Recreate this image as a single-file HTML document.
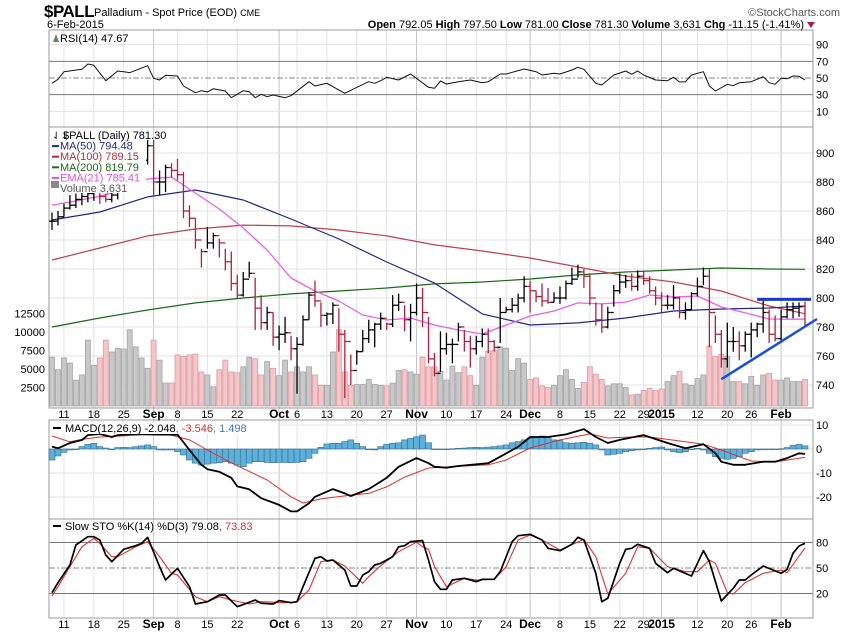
<!DOCTYPE html>
<html><head><meta charset="utf-8"><style>
body{margin:0;background:#fff;}
svg{display:block;font-family:"Liberation Sans",sans-serif;}
</style></head><body>
<svg id="chart" width="850" height="633" viewBox="0 0 850 633" xmlns="http://www.w3.org/2000/svg">
<rect width="850" height="633" fill="#fff"/>
<g id="grid"></g>
<g id="panels"></g>
<g id="series"></g>
<g id="labels"></g>
<!-- header -->
<text x="44" y="17" font-size="17" font-weight="bold" letter-spacing="-0.5">$PALL</text>
<text x="94" y="16" font-size="11">Palladium - Spot Price (EOD) <tspan font-size="9">CME</tspan></text>
<text x="47" y="28" font-size="11">6-Feb-2015</text>
<text x="840" y="16" font-size="11" fill="#555" text-anchor="end">©StockCharts.com</text>
<text x="804" y="28" font-size="11" text-anchor="end"><tspan font-weight="bold">Open</tspan> 792.05 <tspan font-weight="bold">High</tspan> 797.50 <tspan font-weight="bold">Low</tspan> 781.00 <tspan font-weight="bold">Close</tspan> 781.30 <tspan font-weight="bold">Volume</tspan> 3,631 <tspan font-weight="bold">Chg</tspan> -11.15 (-1.41%)</text>
<polygon points="807,22 815,22 811,28" fill="#b0203c"/>
</svg>
<script>
// ---------- data ----------
const high=[859,860,865,871,872,874,876,877,875,872,873,878,884,889,
895,897,909,909,888,892,893,896,887,864,
855,834,849,845,841,834,832,816,818,825,
814,802,794,790,781,787,774,773,788,804,
812,797,790,797,793,778,761,764,778,785,
783,790,783,802,803,795,796,810,807,787,
762,777,776,772,783,778,774,774,779,779,
771,800,794,800,803,815,812,805,810,807,
804,808,812,821,823,820,817,797,796,794,
809,817,816,817,819,819,815,808,804,802,
809,801,797,804,814,821,820,788,778,783,
780,777,777,783,783,799,792,788,792,797,
797,797,797.5];
const low=[847,850,856,861,862,864,866,867,865,866,866,868,874,879,
885,888,892,870,871,873,883,881,855,849,
834,821,834,834,828,819,805,800,801,814,
778,778,778,767,764,769,757,734,767,785,
794,780,781,782,763,731,740,754,763,769,
766,778,778,780,791,777,770,788,780,755,
746,749,761,755,770,763,752,761,766,762,
763,769,790,790,790,797,790,797,794,796,
797,796,799,809,814,807,795,781,776,779,
794,803,807,805,805,809,803,795,790,792,
792,786,785,792,801,809,766,769,752,752,
763,757,763,759,773,776,769,770,769,786,
786,787,781];
const close=[853,856,862,864,868,870,872,874,870,868,871,876,882,886,
890,895,905,880,880,890,888,885,860,855,
840,832,838,843,838,825,810,802,813,817,
793,783,790,773,775,776,765,768,785,802,
798,788,789,795,775,770,750,763,772,778,
782,786,782,795,797,785,790,800,790,758,
748,765,768,768,780,770,765,770,775,770,
766,790,792,795,800,808,805,801,798,797,
800,800,810,813,818,815,800,785,780,790,
805,811,812,808,815,812,805,800,795,795,
800,790,792,803,808,815,790,775,758,770,
770,767,775,778,782,790,775,772,787,792,
793,794,781.3];
const volume=[6600,4900,6500,5800,3500,4200,8900,5500,6500,8900,7300,7800,7700,10300,8000,6500,5100,8900,6200,3100,3100,6900,6700,6900,7000,4600,4200,2600,4900,6200,4600,
4500,5300,6600,6400,4200,6000,5100,4100,6200,4600,5300,4600,5300,4200,2800,2800,7300,10300,4600,2800,2900,2900,3600,2900,2800,2700,3100,4800,4900,4600,4300,6600,
5300,5300,4700,3500,5400,4500,5300,4100,2800,6600,7400,7500,8000,7800,4800,6400,5800,3600,3800,2700,2500,2800,4100,4900,3600,2400,3200,5300,4300,3600,2700,3000,
3000,2500,1500,1600,2100,2400,2100,2300,3300,4100,4700,3000,2800,3700,4200,8100,6700,7000,6700,3300,3300,3000,4000,2800,4200,4400,3500,3500,3800,3300,3300,3600];
const maIdx=[0,8,16,24,32,40,48,56,64,72,80,88,96,104,112,120,126];
const ma50=[853.8,859.3,869.7,874.5,867.6,854.5,840.7,824.8,810.3,789,781.4,782.8,786.2,791,792.4,793.1,794.5];
const ma100=[826.2,834.5,842.8,847.6,850.3,849.7,846.9,842.8,836.6,832.4,827.6,821.4,815.2,811,804.8,794.5,789.2];
const ma200=[780,786.2,791.7,796.6,800,802.8,804.8,806.9,809.7,811,813.1,815.9,817.9,819.3,820.7,820,819.8];
const emaIdx=[0,4,8,12,16,20,24,28,32,36,40,44,48,52,56,60,64,68,72,76,80,84,88,92,96,100,104,108,112,116,120,124,126];
const ema21=[864.1,866.9,870.3,874.5,882.1,883.4,872.4,861.4,848.3,833.1,813.8,804.8,797.9,788.3,784.8,786.2,781.4,777.9,775.2,781.4,787.6,791,796.6,795.9,797.2,802.1,800.7,801.4,793.8,789.7,785.5,785.4,785.4];
const rsiIdx=[0,1,2,5,6,7,9,11,12,13,16,17,18,19,21,22,24,25,26,27,29,30,32,33,34,35,36,37,39,40,43,44,46,49,51,53,54,55,56,58,60,63,64,65,66,68,70,72,73,75,76,79,81,82,84,85,87,88,89,91,92,94,96,97,98,99,101,103,104,105,106,107,109,110,111,113,114,115,117,119,120,121,122,123,124,125,126];
const rsiVal=[43.6,48.4,57.6,60.4,66.8,65.2,46.8,58.4,57.6,56.4,64.8,49.6,47.6,53.2,52.4,40.4,32.4,34.8,33.2,37.2,34.4,26.4,34.8,33.6,26.4,30.4,27.6,29.6,26.4,28.8,45.6,40.4,43.6,31.6,38.8,45.6,43.6,46.8,50.8,47.6,54.8,38.8,37.6,46.4,42.8,45.6,47.6,44.4,45.6,54.8,54.8,60.8,57.6,53.6,55.6,54.8,59.6,62.8,60.4,43.6,41.6,53.6,58.4,54.4,58.4,53.6,47.6,46.8,50.8,45.2,45.6,53.6,57.6,40.4,34.4,42.4,40.8,44.4,45.6,51.6,44.4,42.4,49.6,49.2,52.4,52,47.7];
const macdIdx=[0,1,3,5,6,8,10,11,14,18,21,23,25,26,28,30,31,33,35,38,40,41,43,44,47,49,50,53,56,58,61,63,64,66,68,73,75,78,80,83,86,89,91,93,95,99,103,106,109,111,112,114,116,119,121,123,125,126];
const macdVal=[1.0,0.3,2.5,3.75,5.8,6.25,5,5.8,6.25,6,6,-0.4,-6.6,-8.4,-9.5,-12,-15.6,-16.8,-20.5,-23.3,-26,-26,-22.6,-19.9,-16.7,-18.5,-19.6,-16.7,-12,-7.4,-3.8,-5.9,-7.4,-7.8,-7.1,-5.9,-3.2,0.9,5,5,6.1,8.3,5,2.5,3.8,5.8,2.5,0.3,2,-1.8,-5.3,-6.6,-6.6,-5.3,-5.3,-3.8,-1.8,-2.05];
const sigIdx=[0,3,5,8,16,20,23,26,30,36,40,42,45,50,53,56,59,63,66,73,76,80,85,90,93,97,100,106,109,112,115,117,121,123,126];
const sigVal=[5.4,3,4,5,6,5.8,3.8,-0.4,-5.8,-12.9,-19.9,-22.5,-20.8,-19.2,-18.5,-15.8,-11.7,-7.9,-7.5,-6.6,-4.6,0.4,3.8,6.3,4.6,5,5,3,2,-0.4,-3.2,-5,-5.4,-4.6,-3.5];
const histVal=[-4.6,-2.9,-1.4,-0.4,0,1.0,1.9,2.4,1.0,0.4,-0.1,0.6,0.7,0.6,1.0,1.3,1.7,1.0,-0.4,-0.4,-0.4,-1.1,-2.5,-4.6,-5.9,-6.7,-6.3,-5.9,-5.7,-5.3,-5.9,-6.7,-7.4,-5.9,-5.3,-5.3,-5.6,-5.7,-5.6,-5.6,-5.7,-5.6,-5.3,-3.9,-1.8,0.7,2.1,2.4,2.4,3.1,3.8,2.4,1.0,-0.1,-0.4,1.0,1.9,2.4,2.6,3.8,4.4,5.1,5.8,
2.6,0,-0.1,0,0.1,0.3,0.4,0.6,0.7,0.6,0.8,1.0,1.3,1.7,2.6,3.1,3.8,4.4,5.1,5.4,5.1,3.8,3.5,2.6,2.4,2.6,2.8,2.4,1.7,-0.4,-2.5,-2.2,-1.8,-1.1,-0.7,-0.4,-0.1,0.3,0.6,0.8,-0.4,-1.1,-1.5,-1.1,-0.1,0.3,-0.4,-1.8,-3.2,-3.9,-4.3,-3.9,-3.2,-1.8,-1.1,-0.4,-0.1,0,-0.1,0.1,0.6,1.5,1.9,1.3];
const kIdx=[0,1,3,4,6,7,8,9,10,12,14,15,16,18,19,21,23,24,26,28,29,31,33,34,35,37,38,40,41,42,44,45,46,47,49,50,51,52,53,54,55,57,58,59,60,62,63,64,65,66,67,69,71,72,74,75,77,78,80,82,83,85,87,88,89,91,92,93,95,96,97,98,100,101,103,104,107,109,110,112,114,115,116,117,119,122,123,124,125,126];
const kVal=[20.9,32.7,53.5,77,86.8,86.8,83,65.3,57.4,72,76.2,79,86,51.6,35.9,49.6,28,7.6,10.4,18.2,18.2,4.5,9.6,12.4,8.5,7.6,11.6,9.2,10.4,28,61.4,63.3,58.2,59.4,47.6,28.8,28.8,41.8,45.6,53.5,55.5,63.3,75,76.2,81,82.2,59.4,33.9,24.9,24.9,35.9,37.9,33.9,36.7,36.7,45.6,81,88,89.6,82.9,73.2,70.4,77.9,86.1,82.9,43.8,10.4,14.3,55.5,72,73.2,77.9,73.2,55.5,44.5,49.6,40.6,70.4,57.4,11.2,26.1,35.9,35.9,41.8,52.4,43.8,48.5,67.3,75.9,79.1];
const dIdx=[0,1,3,5,7,8,10,11,14,16,18,20,21,24,26,28,30,33,35,39,41,43,45,47,49,52,53,55,58,61,62,63,64,66,69,71,74,76,78,80,82,85,89,91,93,96,98,100,103,106,108,110,111,113,114,116,119,122,123,126];
const dVal=[17,28,51.6,75,85,79,63.3,63.3,75,81,63.3,43.8,41.8,16.2,10.4,16.2,12.4,7.6,10.4,9.2,10.4,24.1,57.4,59.4,52.4,32,39.8,52.7,69.2,80.2,75,72,51.6,28,37.9,35.9,36.7,51.6,83,88.8,82.9,71.2,83.8,63.3,19.4,43.8,75,73.2,51.6,45.6,45.6,59.4,55.5,20.9,19.4,32.7,43.8,47.6,44.5,73.8];
const dateIdx=[2,7,12,17,21,26,31,38,41,46,51,56,61,66,71,76,80,85,90,95,99,102,108,113,117,122];
const dateLbl=["11","18","25","Sep","8","15","22","Oct","6","13","20","27","Nov","10","17","24","Dec","8","15","22","29","2015","12","20","26","Feb"];
const priceTicks=[900,880,860,840,820,800,780,760,740];
const volTicks=[12500,10000,7500,5000,2500];
const rsiTicks=[90,70,50,30,10];
const macdTicks=[10,0,-10,-20];
const stoTicks=[80,50,20];
const resistIdx=[118,127]; const resistVal=[799,799];
const supportIdx=[112,128]; const supportVal=[744,785.5];

// ---------- scales ----------
const X0=52, DX=753/126, L=49, R=813;
const xOf=i=>X0+i*DX;
const yP=v=>153+(900-v)*1.45;
const yV=v=>406-v/2500*18.5;
const yR=v=>78-(v-50)*0.8333;
const yM=v=>449-v*2.4;
const yS=v=>568-(v-50)*0.85;
const NS='http://www.w3.org/2000/svg';
function mk(tag,attrs,parent){const e=document.createElementNS(NS,tag);for(const k in attrs)e.setAttribute(k,attrs[k]);parent.appendChild(e);return e;}
const G=document.getElementById('grid'),P=document.getElementById('panels'),S=document.getElementById('series'),T=document.getElementById('labels');
function txt(s,x,y,o,parent){const e=mk('text',Object.assign({x:x,y:y,'font-size':11},o||{}),parent||T);e.textContent=s;return e;}

// vertical grid
dateIdx.forEach((d,k)=>{const x=xOf(d);const bold=isNaN(+dateLbl[k])||dateLbl[k]==="2015";
 const ln=mk('line',{x1:x,x2:x,y1:30,y2:618,stroke:bold?'#c4c4c4':'#e2e2e2','stroke-width':1},G);
 
 
 [418,628].forEach(yy=>{const t=txt(dateLbl[k],x,yy,{'text-anchor':'middle','font-weight':bold?'bold':'normal','font-size':bold?12:11});
  
  });
});
// horizontal grid + axis labels
function hgrid(ticks,yf,name,strong,dash){ticks.forEach(v=>{const y=yf(v);
 const ln=mk('line',{x1:L,x2:R,y1:y,y2:y,stroke:strong&&strong.includes(v)?'#777':'#e2e2e2','stroke-width':1},G);
 if(dash&&dash.includes(v)){ln.setAttribute('stroke','#888');ln.setAttribute('stroke-dasharray','6,2,2,2');}
 
 
 const t=txt(String(v),816,y+4,{});
 
 });}
hgrid(rsiTicks,yR,'rsi',[70,30],[50]);
hgrid(priceTicks,yP,'price');
hgrid(macdTicks,yM,'macd');
hgrid(stoTicks,yS,'sto',[80,20],[50]);
volTicks.forEach(v=>{const t=txt(String(v),45,yV(v)+4,{'text-anchor':'end'});
 
 });
// panel frames
[[30,127,'rsi-panel'],[127,408,'price-panel'],[420,519,'macd-panel'],[519,618,'sto-panel']].forEach(p=>{
 const r=mk('rect',{x:L,y:p[0],width:R-L,height:p[1]-p[0],fill:'none',stroke:'#999','stroke-width':1},P);
 
 });

// volume bars
volume.forEach((v,i)=>{const up=i===0||close[i]>=close[i-1];const x=xOf(i);
 const r=mk('rect',{x:x-2.5,y:yV(v),width:5,height:406-yV(v),fill:up?'#c8c8c8':'#f4c6ca',stroke:up?'#a4a4a4':'#dc9aa2','stroke-width':0.8},S);
 
 });
// lines
function line(idx,vals,yf,color,w,name){const pts=idx.map((d,k)=>xOf(d).toFixed(1)+','+yf(vals[k]).toFixed(1)).join(' ');
 const p=mk('polyline',{points:pts,fill:'none',stroke:color,'stroke-width':w,'stroke-linejoin':'round'},S);
 
 return p;}
line(maIdx,ma200,yP,'#1b6a1b',1.2,'ma200-line');
line(maIdx,ma100,yP,'#c0404f',1.2,'ma100-line');
line(maIdx,ma50,yP,'#1f2a80',1.2,'ma50-line');
line(emaIdx,ema21,yP,'#e860e8',1.3,'ema21-line');
// price bars
close.forEach((c,i)=>{const up=i===0||c>=close[i-1];const x=xOf(i);const col=up?'#000':'#b0203c';
 const g=mk('g',{stroke:col,'stroke-width':1.3},S);
 
 
 mk('line',{x1:x,x2:x,y1:yP(high[i]),y2:yP(low[i])},g);
 mk('line',{x1:x,x2:x+3,y1:yP(c),y2:yP(c)},g);
 mk('line',{x1:x-3,x2:x,y1:yP(i?close[i-1]:c),y2:yP(i?close[i-1]:c)},g);});
// trendlines
line(resistIdx,resistVal,yP,'#1a3acc',3,'resistance-trendline');
line(supportIdx,supportVal,yP,'#1a4ee0',2.5,'support-trendline');
// RSI
line(rsiIdx,rsiVal,yR,'#111',1,'rsi-line');
// MACD hist
histVal.forEach((v,i)=>{const x=xOf(i);const y0=yM(0),y1=yM(v);
 const r=mk('rect',{x:x-3,y:Math.min(y0,y1),width:6,height:Math.max(Math.abs(y1-y0),0.6),fill:'#5eb0d8',stroke:'#2c6c94','stroke-width':0.6},S);
 
 });
line(sigIdx,sigVal,yM,'#e0302a',1,'macd-signal-line');
line(macdIdx,macdVal,yM,'#000',1.8,'macd-line');
// STO
line(dIdx,dVal,yS,'#e0302a',1.1,'sto-d-line');
line(kIdx,kVal,yS,'#000',1.7,'sto-k-line');
</script>
<script>
// legends (static overlay)
const svg=document.getElementById('chart');
const NS2='http://www.w3.org/2000/svg';
function add(tag,a,txtc){const e=document.createElementNS(NS2,tag);for(const k in a)e.setAttribute(k,a[k]);if(txtc)e.textContent=txtc;svg.appendChild(e);return e;}
let e;
e=add('rect',{x:50,y:128,width:96,height:65,fill:'#fff'});


const rows=[["$PALL (Daily) 781.30","#000"],["MA(50) 794.48","#1f2a80"],["MA(100) 789.15","#b03040"],["MA(200) 819.79","#1b6a1b"],["EMA(21) 785.41","#e050e0"],["Volume 3,631","#555"]];
rows.forEach((r,k)=>{const y=139+k*10.6;
 if(k>0&&k<5){e=add('rect',{x:52,y:y-4.5,width:7,height:2,fill:r[1]});}
 e=add('text',{x:k===0?63:60,y:y,'font-size':11,fill:r[1]},r[0]);
 
 });
e=add('text',{x:52,y:139,'font-size':10},'⇃⇂');
e=add('rect',{x:51,y:181,width:8,height:7,fill:'#888'});
e=add('polygon',{points:'53,42 56,34 59,42',fill:'#5a8a5a'});
e=add('text',{x:60,y:42,'font-size':11},'RSI(14) 47.67');
e=add('rect',{x:50,y:422,width:228,height:12,fill:'#fff'});
e=add('rect',{x:53,y:427,width:8,height:2,fill:'#000'});
e=add('text',{x:65,y:432,'font-size':11});e.innerHTML='MACD(12,26,9) -2.048<tspan fill="#d03020">, -3.546</tspan><tspan fill="#3a7ab8">, 1.498</tspan>';

e=add('rect',{x:53,y:525,width:8,height:2,fill:'#000'});
e=add('text',{x:65,y:530,'font-size':11});e.innerHTML='Slow STO %K(14) %D(3) 79.08<tspan fill="#d03020">, 73.83</tspan>';

</script>
</body></html>
